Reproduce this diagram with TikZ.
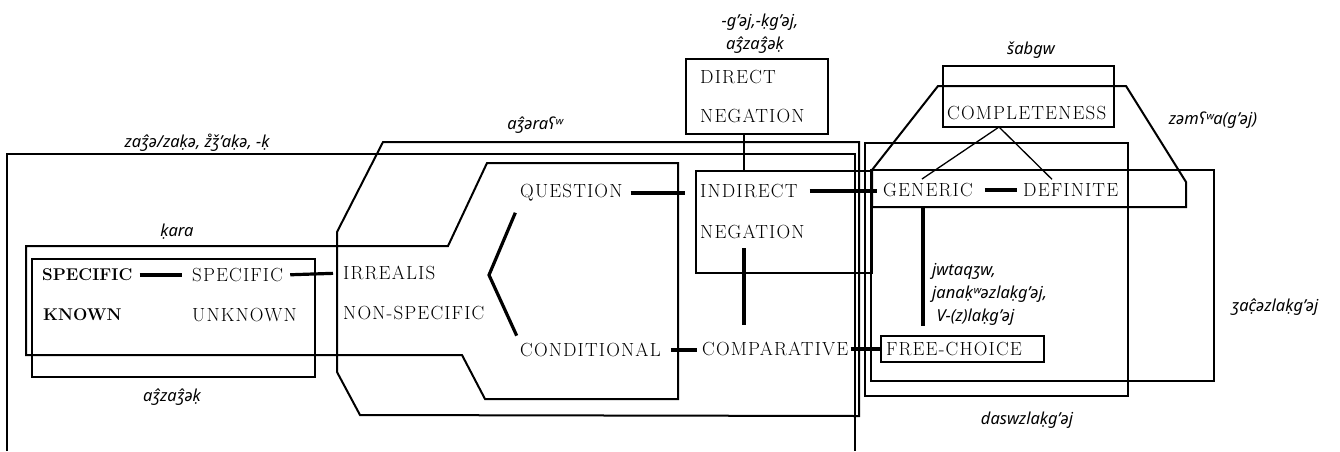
\documentclass[tikz,border=0pt]{standalone}
\usepackage{fontspec}
\usepackage{tikz}
\usetikzlibrary{calc}
\newfontfamily\glossfont{Noto Sans}
\newfontfamily\mapfont[LetterSpace=6]{Latin Modern Roman}

\tikzset{
  zone/.style={line width=2pt},
  link/.style={line width=3.2pt},
  thinlink/.style={line width=1.3pt},
  term/.style={inner sep=0pt, anchor=west,
    font=\mapfont\fontsize{19}{19}\selectfont},
  boldterm/.style={term,
    font=\fontsize{17}{17}\bfseries\selectfont},
  gloss/.style={inner sep=0pt, font=\glossfont\itshape\fontsize{16.5}{23}\selectfont}
}

\begin{document}
\begin{tikzpicture}[x=1pt,y=-1pt]
\useasboundingbox (0,0) rectangle (1340,451);

% zones drawn over the map
\draw[zone] (7,451) -- (7,154) -- (855,154) -- (855,451);
\draw[zone] (383,142) -- (859,142) -- (859,416) -- (360,415) -- (337,372) -- (337,232) -- cycle;
\draw[zone] (26,246) -- (448,246) -- (487,163) -- (678,163) -- (678,399) -- (485,399) -- (462,355) -- (26,355) -- cycle;
\draw[zone] (32,259) rectangle (315,377);
\draw[zone] (865,143) rectangle (1128,396);
\draw[zone] (871,170) rectangle (1214,381);
\draw[zone] (872,170) -- (938,86) -- (1126,86) -- (1186,182) -- (1186,207) -- (872,207) -- cycle;

% boxes
\node[zone, draw, minimum width=142pt, minimum height=75pt] (dirbox) at (757,96.5) {};
\node[zone, draw, minimum width=176pt, minimum height=102pt] (indbox) at (784,222) {};
\node[zone, draw, minimum width=171pt, minimum height=61pt] (cbox) at (1028.5,96.5) {};

% the map
\node[boldterm] (spk) at (42,275) {SPECIFIC};
\node[boldterm] (known) at (43,315) {KNOWN};
\node[term] (spu) at (192,275) {SPECIFIC};
\node[term] (unk) at (192,315) {UNKNOWN};
\node[term] (irr) at (343,273) {IRREALIS};
\node[term] (nonsp) at (343,313) {NON-SPECIFIC};
\node[term] (quest) at (520,193) {QUESTION};
\node[term] (cond) at (520,350) {CONDITIONAL};
\node[term] (dir) at (700,77) {DIRECT};
\node[term] (dneg) at (700,116) {NEGATION};
\node[term] (indir) at (700,191) {INDIRECT};
\node[term] (ineg) at (700,232) {NEGATION};
\node[term] (comp) at (702,349) {COMPARATIVE};
\node[term] (compl) at (947,113) {COMPLETENESS};
\node[term] (gen) at (883,190) {GENERIC};
\node[term] (def) at (1023,190) {DEFINITE};
\node[term, zone, draw, inner xsep=5pt, minimum height=26pt] (free) at (880,349)
  {\makebox[153pt][l]{FREE-CHOICE}};

\coordinate (fork) at (489,275);
\coordinate (negx) at (744,0);
\coordinate (genx) at (923,0);
\coordinate (ctop) at (999,127);

\draw[link, shorten <=7pt, shorten >=10pt] (spk.east) -- (spu.west);
\draw[link, shorten <=7pt, shorten >=10pt] (spu.east) -- (irr.west);
\draw[link, shorten <=12pt, shorten >=8pt] (quest.south west) -- (fork) -- (cond.north west);
\draw[link, shorten <=8pt, shorten >=15pt] (quest.east) -- (quest.east -| indir.west);
\draw[link, shorten <=10pt, shorten >=5pt] (cond.east) -- (cond.east -| comp.west);
\draw[link, shorten <=2pt] (comp.east) -- (comp.east -| free.west);
\draw[link, shorten <=12pt, shorten >=6pt] (indir.east) -- (indir.east -| gen.west);
\draw[link, shorten <=12pt, shorten >=6pt] (gen.east) -- (def.west);
\draw[link, shorten <=9pt, shorten >=9pt] (gen.south -| genx) -- (free.north -| genx);
\draw[link, shorten <=9pt, shorten >=17pt] (ineg.south -| negx) -- (comp.north -| negx);
\draw[thinlink] (dirbox.south -| negx) -- (indbox.north -| negx);
\draw[thinlink] (ctop) -- ($(gen.north)+(-6,-4)$);
\draw[thinlink] (ctop) -- ($(def.north west)+(29,-4)$);

% Abaza markers
\node[gloss] (lzaga) at (197,143) {zaʒ̂ə/zaḳə, z̊ǯ’aḳə, -ḳ};
\node[gloss] (lagara) at (535,125) {aʒ̂əraʕʷ};
\node[gloss] (lkara) at (177,232) {ḳara};
\node[gloss] (lazaga) at (172,397) {aʒ̂zaʒ̂əḳ};
\node[gloss] (lgaj) at (760,22) {-g’əj,-ḳg’əj,};
\node[gloss] (lazagb) at (755,45) {aʒ̂zaʒ̂əḳ};
\node[gloss] (lsab) at (1031,50) {šabgw};
\node[gloss] (lzam) at (1213,120) {zəmʕʷa(g’əj)};
\node[gloss] (lzac) at (1275,307) {ʒaĉ̣əzlaḳg’əj};
\node[gloss] (ldas) at (1027,420) {daswzlaḳg’əj};
\node[gloss, anchor=west, align=left] (ljwt) at (932,294)
  {jwtaqʒw,\\janaḳʷəzlaḳg’əj,\\\ V-(z)laḳg’əj};
\end{tikzpicture}
\end{document}
